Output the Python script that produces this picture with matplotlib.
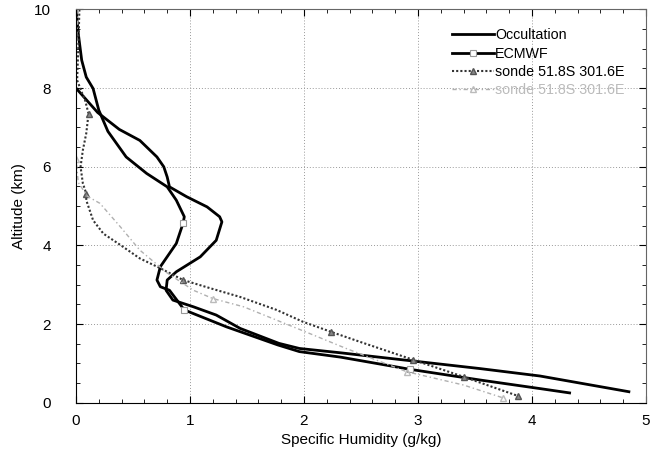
import matplotlib
matplotlib.use("Agg")
import matplotlib.pyplot as plt
from matplotlib.ticker import MultipleLocator

plt.rcParams['font.family'] = ['Liberation Sans', 'DejaVu Sans']

# Occultation profile
occ_q = [0.0, 0.19, 0.38, 0.56, 0.71, 0.77, 0.80, 0.82, 0.97, 1.15, 1.26, 1.28, 1.23, 1.09,
         0.88, 0.80, 0.79, 0.85, 1.03, 1.23, 1.44, 1.78, 1.96, 2.32, 3.54, 4.07, 4.85]
occ_h = [8.0, 7.38, 6.95, 6.67, 6.25, 6.0, 5.74, 5.49, 5.24, 4.98, 4.73, 4.60, 4.13, 3.71,
         3.33, 3.12, 2.86, 2.61, 2.44, 2.23, 1.89, 1.51, 1.38, 1.27, 0.87, 0.68, 0.28]

# ECMWF profile
ecm_q = [0.0, 0.02, 0.05, 0.09, 0.15, 0.20, 0.28, 0.44, 0.62, 0.80, 0.88, 0.95, 0.94, 0.88,
         0.74, 0.71, 0.74, 0.82, 0.95, 1.32, 1.77, 1.96, 2.32, 2.93, 3.54, 4.07, 4.33]
ecm_h = [10.0, 9.39, 8.71, 8.28, 7.99, 7.44, 6.90, 6.25, 5.83, 5.49, 5.15, 4.73, 4.57, 4.05,
         3.46, 3.12, 2.95, 2.86, 2.36, 1.93, 1.47, 1.30, 1.16, 0.85, 0.58, 0.36, 0.25]
ecm_marks = [12, 18, 23]

# Sonde 51.8S 301.6E
s1_q = [0.03, 0.02, 0.01, 0.05, 0.08, 0.11, 0.09, 0.06, 0.04, 0.06, 0.09, 0.09, 0.15, 0.24,
        0.39, 0.56, 0.74, 0.94, 1.18, 1.44, 1.76, 1.99, 2.24, 2.49, 2.96, 3.40, 3.88]
s1_h = [10.0, 9.0, 8.2, 7.9, 7.69, 7.35, 6.85, 6.42, 6.0, 5.58, 5.32, 5.15, 4.64, 4.30,
        4.01, 3.67, 3.42, 3.12, 2.91, 2.69, 2.36, 2.06, 1.80, 1.55, 1.09, 0.66, 0.17]
s1_marks = [5, 10, 17, 22, 24, 25, 26]

# Second sonde
s2_q = [0.02, 0.0, 0.0, 0.0, 0.0, 0.02, 0.10, 0.21, 0.39, 0.56, 0.80, 1.03, 1.20, 1.47,
        1.76, 2.05, 2.37, 2.90, 3.40, 3.75]
s2_h = [10.0, 9.0, 8.0, 7.0, 6.2, 5.6, 5.25, 5.07, 4.47, 3.88, 3.30, 2.86, 2.65, 2.44,
        2.10, 1.76, 1.38, 0.79, 0.45, 0.12]
s2_marks = [4, 12, 17, 19]

labels = ['Occultation', 'ECMWF', 'sonde 51.8S 301.6E', 'sonde 51.8S 301.6E']

fig = plt.figure(figsize=(6.62, 4.51), dpi=100)
ax = fig.add_axes([0.1148, 0.107, 0.861, 0.872])

ax.plot(occ_q, occ_h, color='black', lw=2.0, label=labels[0])
ax.plot(ecm_q, ecm_h, color='black', lw=2.0, marker='s', ms=5, mfc='white',
        mec='#999999', mew=0.8, markevery=ecm_marks, label=labels[1])
ax.plot(s1_q, s1_h, color='#333333', lw=1.5, ls=(0, (1, 1)), marker='^', ms=4,
        mfc='#888888', mec='#555555', markevery=s1_marks, label=labels[2])
ax.plot(s2_q, s2_h, color='#b0b0b0', lw=1.0, ls=(0, (3, 2, 1, 2)), marker='^', ms=4,
        mfc='none', mec='#bbbbbb', markevery=s2_marks, label=labels[3])

ax.set_xlim(0, 5)
ax.set_ylim(0, 10)
ax.xaxis.set_major_locator(MultipleLocator(1))
ax.xaxis.set_minor_locator(MultipleLocator(0.2))
ax.yaxis.set_major_locator(MultipleLocator(2))
ax.yaxis.set_minor_locator(MultipleLocator(0.5))
ax.tick_params(which='both', direction='in', top=True, right=True, labelsize=11)
ax.tick_params(axis='x', which='major', pad=8, length=5)
ax.tick_params(axis='y', which='major', pad=18, length=5)
ax.tick_params(which='minor', length=3)
ax.grid(True, which='major', color='#999999', ls=(0, (1, 2)), lw=0.7)
for s in ['top', 'right']:
    ax.spines[s].set_color('#666666')

ax.set_xlabel('Specific Humidity (g/kg)', fontsize=11, labelpad=4)
ax.set_ylabel('Altitude (km)', fontsize=11, labelpad=6)

leg = ax.legend(loc='upper right', bbox_to_anchor=(0.985, 0.985), frameon=False,
                fontsize=10.3, handlelength=2.9, labelspacing=0.3, handletextpad=0.1)
leg.get_texts()[3].set_color('#bbbbbb')

fig.savefig('out.png', dpi=100)
